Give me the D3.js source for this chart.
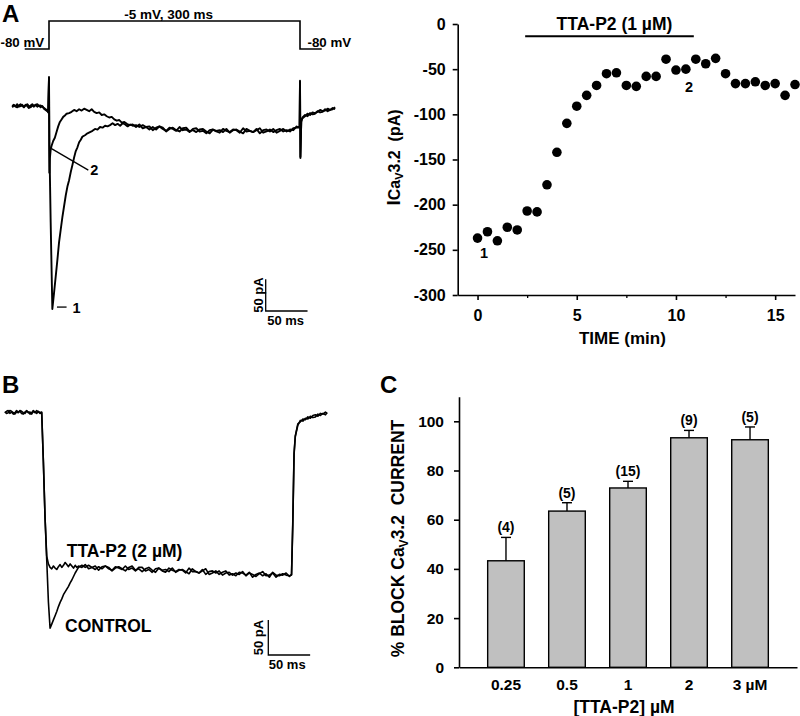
<!DOCTYPE html>
<html><head><meta charset="utf-8">
<script src="https://cdn.jsdelivr.net/npm/d3@7"></script>
<style>
body{margin:0;background:#fff;}
svg{display:block;font-family:"Liberation Sans",Arial,sans-serif;font-weight:bold;}
text{fill:#000;}
</style></head><body>
<svg id="fig" width="800" height="716"></svg>
<script>
// ---------- DATA ----------
// Panel A (right): time course of ICaV3.2
const scatterTime = [0,0.5,1,1.5,2,2.5,3,3.5,4,4.5,5,5.5,6,6.5,7,7.5,8,8.5,9,9.5,10,10.5,11,11.5,12,12.5,13,13.5,14,14.5,15,15.5,16];
const scatterCurrent = [-237,-230,-240,-225,-228,-207,-208,-178,-142,-110,-91,-79,-68,-55,-54,-68,-69,-58,-58,-39,-51,-50,-39,-44,-38,-55,-66,-66,-64,-68,-66,-79,-67];
const scatterYTicks = [0,-50,-100,-150,-200,-250,-300];
const scatterXTicks = [0,5,10,15];
const scatterMinorTicks = [2.5,7.5,12.5];
const drugPeriod = [2.4,10.9];

// Panel C: % block
const concLabels = ["0.25","0.5","1","2","3 \u00b5M"];
const blockMean = [43.3,63.5,72.9,93.3,92.5];
const blockSEM = [9.5,3.4,2.7,3.0,5.2];
const nCells = [4,5,15,9,5];
const blockTicks = [0,20,40,60,80,100];

// Panel A (left): voltage protocol [ms, mV]
const protocolA = [[-29,-80],[0,-80],[0,-5],[300,-5],[300,-80],[326,-80]];
// Panel A traces [ms, pA]
const ctrlA = [[-44,3],[-42,5],[-40,2],[-38,1],[-36,4],[-34,6],[-32,3],[-30,2],[-28,5],[-26,3],[-24,0],[-22,4],[-20,6],[-18,3],[-16,5],[-14,2],[-12,4],[-10,1],[-8,3],[-6,-1],[-4,-3],[-2,-5],[-1,-6],
[0,49],[0.5,-60],[2,-180],[4,-317],[6,-292],[8,-266],[10,-240],[12,-212],[14,-192],[16,-172],[18,-155],[20,-138],[22,-124],[24,-114],[26,-101],[28,-90],[30,-78],[32,-68],[34,-62],[36,-54],[38,-50],[40,-45],
[43,-43],[46,-40],[49,-38],[52,-36],[55,-33],[58,-34],[61,-30],[64,-31],[67,-28],[70,-29],[73,-27],[76,-24],[79,-27],[82,-25],[85,-28],[88,-24],[91,-26],[94,-29],[97,-26],[100,-28],
[104,-27],[108,-30],[112,-27],[116,-30],[120,-34],[124,-30],[128,-34],[132,-29],[136,-31],[140,-37],[144,-33],[148,-31],[152,-35],[156,-37],[160,-32],[164,-31],[168,-37],[172,-35],[176,-38],[180,-34],[184,-33],[188,-37],[192,-40],[196,-34],[200,-36],[204,-35],[208,-38],[212,-33],[216,-39],[220,-35],[224,-34],[228,-37],[232,-40],[236,-33],[240,-36],[244,-38],[248,-35],[252,-32],[256,-39],[260,-37],[264,-34],[268,-38],[272,-35],[276,-33],[280,-37],[284,-35],[288,-37],[292,-32],[296,-31],[298,-30],
[299.5,-30],[300,43],[300.5,-79],[301.5,-22],[303,-15],[306,-11],[309,-13],[312,-8],[315,-10],[318,-9],[321,-5],[324,-7],[327,-6],[330,-2],[333,-5],[336,-3],[339,0],[342,-2]];
const ttaA = [[-44,1],[-42,4],[-40,3],[-38,6],[-36,2],[-34,3],[-32,5],[-30,1],[-28,4],[-26,6],[-24,3],[-22,1],[-20,4],[-18,2],[-16,5],[-14,6],[-12,3],[-10,4],[-8,2],[-6,0],[-4,-2],[-2,-4],[-1,-7],
[0,47],[0.4,-102],[1,-80],[2,-66],[3,-60],[5,-52],[7,-47],[9,-38],[11,-29],[13,-22],[15,-18],[17,-14],[19,-12],[21,-9],
[24,-8],[27,-6],[30,-3],[33,-5],[36,-2],[39,-4],[42,-1],[45,-3],[48,-5],[51,-2],[54,-6],[57,-8],[60,-7],[63,-11],[66,-10],[69,-13],[72,-15],[75,-14],[78,-18],[81,-20],[84,-19],[87,-23],[90,-22],[93,-25],[96,-27],[100,-26],
[104,-30],[108,-26],[112,-32],[116,-30],[120,-29],[124,-35],[128,-31],[132,-29],[136,-33],[140,-36],[144,-31],[148,-33],[152,-36],[156,-30],[160,-35],[164,-34],[168,-38],[172,-33],[176,-32],[180,-37],[184,-36],[188,-40],[192,-35],[196,-34],[200,-37],[204,-39],[208,-33],[212,-36],[216,-38],[220,-34],[224,-35],[228,-39],[232,-32],[236,-37],[240,-36],[244,-38],[248,-33],[252,-40],[256,-35],[260,-34],[264,-37],[268,-33],[272,-39],[276,-36],[280,-33],[284,-37],[288,-34],[292,-35],[296,-29],[298,-31],
[299.5,-31],[300,41],[300.5,-77],[301.5,-20],[303,-16],[306,-13],[309,-9],[312,-11],[315,-7],[318,-8],[321,-6],[324,-3],[327,-5],[330,-4],[333,-1],[336,-3],[339,-2],[342,1]];

// Panel B traces [ms, pA]
const ctrlB = [[-44,0],[-42,2],[-40,3],[-38,-1],[-36,1],[-34,-2],[-32,0],[-30,3],[-28,1],[-26,2],[-24,-1],[-22,-2],[-20,1],[-18,3],[-16,0],[-14,1],[-12,-2],[-10,2],[-8,0],[-6,3],[-4,1],[-2,-1],[0,0],
[2,-70],[4,-150],[6,-210],[8,-270],[10,-308],[12,-302],[14,-296],[16,-290],[18,-284],[20,-277],[22,-271],[24,-266],[26,-260],[28,-256],[30,-252],[32,-248],[34,-243],[36,-239],[38,-234],[40,-229],[42,-225],[44,-221],
[48,-218],[52,-221],[56,-218],[60,-221],[64,-224],[68,-220],[72,-223],[76,-219],[80,-221],[84,-226],[88,-222],[92,-220],[96,-223],[100,-226],[104,-221],[108,-219],[112,-225],[116,-223],[120,-227],[124,-223],[128,-221],[132,-225],[136,-228],[140,-222],[144,-225],[148,-224],[152,-227],[156,-222],[160,-228],[164,-225],[168,-224],[172,-227],[176,-230],[180,-223],[184,-227],[188,-229],[192,-226],[196,-223],[200,-231],[204,-229],[208,-226],[212,-231],[216,-228],[220,-226],[224,-232],[228,-230],[232,-233],[236,-228],[240,-229],[244,-232],[248,-228],[252,-235],[256,-231],[260,-229],[264,-233],[268,-230],[272,-235],[276,-228],[280,-232],[284,-233],[288,-230],[292,-232],[296,-233],[298.5,-232],
[300,-160],[301.5,-60],[303,-34],[306,-18],[309,-11],[312,-12],[315,-8],[318,-9],[321,-5],[324,-7],[327,-6],[330,-2],[333,-4],[336,-1],[339,-3],[341,0]];
const ttaB = [[-44,1],[-42,-1],[-40,0],[-38,3],[-36,2],[-34,0],[-32,-2],[-30,1],[-28,0],[-26,3],[-24,2],[-22,0],[-20,-1],[-18,2],[-16,1],[-14,-2],[-12,0],[-10,3],[-8,1],[-6,-1],[-4,2],[-2,0],[0,1],
[2,-70],[4,-150],[6,-205],[8,-216],[10,-221],[12,-223],[14,-219],[16,-222],[18,-224],[20,-220],[22,-217],[24,-221],[26,-218],[28,-214],[30,-217],[32,-220],[34,-216],[36,-219],[38,-222],[40,-218],[42,-221],[44,-219],
[48,-221],[52,-217],[56,-223],[60,-221],[64,-219],[68,-225],[72,-220],[76,-219],[80,-223],[84,-225],[88,-220],[92,-222],[96,-224],[100,-219],[104,-224],[108,-222],[112,-226],[116,-221],[120,-221],[124,-226],[128,-224],[132,-228],[136,-223],[140,-222],[144,-226],[148,-228],[152,-222],[156,-225],[160,-227],[164,-224],[168,-225],[172,-229],[176,-222],[180,-227],[184,-227],[188,-229],[192,-224],[196,-231],[200,-227],[204,-226],[208,-229],[212,-226],[216,-232],[220,-229],[224,-228],[228,-232],[232,-229],[236,-231],[240,-227],[244,-233],[248,-229],[252,-231],[256,-234],[260,-230],[264,-227],[268,-233],[272,-232],[276,-229],[280,-235],[284,-231],[288,-232],[292,-229],[296,-234],[298.5,-231],
[300,-155],[301.5,-58],[303,-33],[306,-16],[309,-13],[312,-9],[315,-10],[318,-6],[321,-8],[324,-4],[327,-3],[330,-5],[333,-1],[336,-2],[339,1],[341,-1]];

// ---------- DRAWING ----------
const svg = d3.select('#fig');

function styleAxis(g, fs, sw){
  g.attr('font-family', null).attr('font-size', fs);
  g.select('.domain').attr('stroke','#000').attr('stroke-width', sw);
  g.selectAll('.tick line').attr('stroke','#000').attr('stroke-width', sw);
  g.selectAll('.tick text').attr('fill','#000').style('font-weight','bold');
}

// Panel letters
svg.append('text').attr('x',2).attr('y',22).attr('font-size',24).text('A');
svg.append('text').attr('x',2).attr('y',393).attr('font-size',24).text('B');
svg.append('text').attr('x',380).attr('y',393).attr('font-size',24).text('C');

// ===== Panel A left: traces =====
const xA = d3.scaleLinear().domain([0,300]).range([49,300]);
const yA = d3.scaleLinear().domain([0,-100]).range([108,171.4]);
const yV = d3.scaleLinear().domain([-80,-5]).range([49,21]);
const gA = svg.append('g');
gA.append('path').datum(protocolA)
  .attr('d', d3.line().x(d=>xA(d[0])).y(d=>yV(d[1])))
  .attr('fill','none').attr('stroke','#000').attr('stroke-width',1.6);
gA.append('text').attr('x',0.5).attr('y',yV(-80)-2.5).attr('font-size',13.3).text('-80 mV');
gA.append('text').attr('x',xA(309)).attr('y',yV(-80)-2.5).attr('font-size',13.3).text('-80 mV');
gA.append('text').attr('x',xA(143)).attr('y',18.5).attr('text-anchor','middle').attr('font-size',13.5).text('-5 mV, 300 ms');

const lineA = d3.line().x(d=>xA(d[0])).y(d=>yA(d[1]));
[ctrlA, ttaA].forEach(tr=>{
  gA.append('path').datum(tr).attr('d', lineA)
    .attr('fill','none').attr('stroke','#000').attr('stroke-width',1.9).attr('stroke-linejoin','round');
});
// annotations
gA.append('line').attr('x1',xA(3)).attr('y1',yA(-64)).attr('x2',xA(47)).attr('y2',yA(-98)).attr('stroke','#000').attr('stroke-width',1.3);
gA.append('text').attr('x',xA(54)).attr('y',yA(-98)+5).attr('text-anchor','middle').attr('font-size',14.5).text('2');
gA.append('line').attr('x1',xA(9.5)).attr('y1',yA(-314)).attr('x2',xA(21)).attr('y2',yA(-314)).attr('stroke','#000').attr('stroke-width',1.3);
gA.append('text').attr('x',xA(33)).attr('y',yA(-314)+5.5).attr('text-anchor','middle').attr('font-size',14.5).text('1');
// scale bar A
{
  const bx = 265.7, by = 311;
  const h = yA(-50)-yA(0), w = xA(50)-xA(0);
  gA.append('path').attr('d',`M${bx},${by-h}V${by}H${bx+w}`).attr('fill','none').attr('stroke','#000').attr('stroke-width',1.3);
  gA.append('text').attr('transform',`translate(${bx-3},${by-h/2}) rotate(-90)`).attr('text-anchor','middle').attr('font-size',13).text('50 pA');
  gA.append('text').attr('x',bx+w/2-1).attr('y',by+14).attr('text-anchor','middle').attr('font-size',13).text('50 ms');
}

// ===== Panel A right: scatter =====
const xS = d3.scaleLinear().domain([-1,16]).range([457.7,795]);
const yS = d3.scaleLinear().domain([-300,0]).range([295,24]);
const gS = svg.append('g');
gS.append('g').attr('transform','translate(457.7,0)')
  .call(d3.axisLeft(yS).tickValues(scatterYTicks).tickFormat(d=>String(d)).tickSize(5).tickSizeOuter(0).tickPadding(7))
  .call(g=>styleAxis(g,16,1.6));
gS.append('g').attr('transform','translate(0,295)')
  .call(d3.axisBottom(xS).tickValues(scatterXTicks).tickFormat(d=>String(d)).tickSize(5).tickSizeOuter(0).tickPadding(10))
  .call(g=>styleAxis(g,16,1.6));
gS.append('g').attr('transform','translate(0,295)')
  .call(d3.axisBottom(xS).tickValues(scatterMinorTicks).tickFormat('').tickSize(3))
  .call(g=>{g.select('.domain').remove(); g.selectAll('line').attr('stroke','#000').attr('stroke-width',1.3);});
gS.selectAll('circle').data(scatterTime).enter().append('circle')
  .attr('cx',(d)=>xS(d)).attr('cy',(d,i)=>yS(scatterCurrent[i])).attr('r',4.8).attr('fill','#000');
// drug bar
gS.append('line').attr('x1',xS(drugPeriod[0])).attr('x2',xS(drugPeriod[1])).attr('y1',yS(0)+12.3).attr('y2',yS(0)+12.3)
  .attr('stroke','#000').attr('stroke-width',2);
gS.append('text').attr('x',(xS(drugPeriod[0])+xS(drugPeriod[1]))/2+5).attr('y',29.5).attr('text-anchor','middle').attr('font-size',17.5).text('TTA-P2 (1 \u00b5M)');
gS.append('text').attr('x',xS(0)+6.5).attr('y',yS(scatterCurrent[0])+20).attr('text-anchor','middle').attr('font-size',14.5).text('1');
gS.append('text').attr('x',xS(10)+13).attr('y',yS(scatterCurrent[20])+22).attr('text-anchor','middle').attr('font-size',14.5).text('2');
// axis titles
{
  const t = gS.append('text').attr('transform','translate(400,157.5) rotate(-90)').attr('text-anchor','middle').attr('font-size',17);
  t.append('tspan').attr('font-size',19).text('I');
  t.append('tspan').attr('font-size',16).text('Ca');
  t.append('tspan').attr('font-size',11).attr('dy',3).text('V');
  t.append('tspan').attr('font-size',16).attr('dy',-3).text('3.2\u00a0 (pA)');
}
gS.append('text').attr('x',xS(7.3)).attr('y',344).attr('text-anchor','middle').attr('font-size',17).text('TIME (min)');

// ===== Panel B =====
const xB = d3.scaleLinear().domain([0,300]).range([41.7,292.8]);
const yB = d3.scaleLinear().domain([0,-100]).range([412.7,482.7]);
const gB = svg.append('g');
const lineB = d3.line().x(d=>xB(d[0])).y(d=>yB(d[1]));
[ctrlB, ttaB].forEach(tr=>{
  gB.append('path').datum(tr).attr('d', lineB)
    .attr('fill','none').attr('stroke','#000').attr('stroke-width',1.6).attr('stroke-linejoin','round');
});
gB.append('text').attr('x',66.7).attr('y',556.7).attr('font-size',17.5).text('TTA-P2 (2 \u00b5M)');
gB.append('text').attr('x',65).attr('y',631.7).attr('font-size',17.5).text('CONTROL');
{
  const bx = 268.3, by = 655;
  const h = yB(-50)-yB(0), w = xB(50)-xB(0);
  gB.append('path').attr('d',`M${bx},${by-h}V${by}H${bx+w}`).attr('fill','none').attr('stroke','#000').attr('stroke-width',1.3);
  gB.append('text').attr('transform',`translate(${bx-5},${by-h/2}) rotate(-90)`).attr('text-anchor','middle').attr('font-size',13).text('50 pA');
  gB.append('text').attr('x',bx+w/2-2).attr('y',by+14).attr('text-anchor','middle').attr('font-size',13).text('50 ms');
}

// ===== Panel C =====
const xC = d3.scaleBand().domain(concLabels).range([459,797]).paddingInner(0.4).paddingOuter(0.47);
const yC = d3.scaleLinear().domain([0,110]).range([667.3,396.7]);
const gC = svg.append('g');
gC.selectAll('rect').data(concLabels).enter().append('rect')
  .attr('x',d=>xC(d)).attr('width',xC.bandwidth())
  .attr('y',(d,i)=>yC(blockMean[i])).attr('height',(d,i)=>yC(0)-yC(blockMean[i]))
  .attr('fill','#c0c0c0').attr('stroke','#000').attr('stroke-width',1.4);
concLabels.forEach((c,i)=>{
  const cx = xC(c)+xC.bandwidth()/2;
  const top = yC(blockMean[i]+blockSEM[i]);
  gC.append('line').attr('x1',cx).attr('x2',cx).attr('y1',yC(blockMean[i])).attr('y2',top).attr('stroke','#000').attr('stroke-width',1.4);
  gC.append('line').attr('x1',cx-5).attr('x2',cx+5).attr('y1',top).attr('y2',top).attr('stroke','#000').attr('stroke-width',1.4);
  gC.append('text').attr('x',cx).attr('y',top-5).attr('text-anchor','middle').attr('font-size',14).text(`(${nCells[i]})`);
});
gC.append('g').attr('transform','translate(459,0)')
  .call(d3.axisLeft(yC).tickValues(blockTicks).tickFormat(d=>String(d)).tickSize(5).tickSizeOuter(0).tickPadding(10))
  .call(g=>styleAxis(g,15.5,1.6));
gC.append('g').attr('transform','translate(0,667.3)')
  .call(d3.axisBottom(xC).tickSize(0).tickSizeOuter(0).tickPadding(12))
  .call(g=>styleAxis(g,15.5,1.6));
{
  const t = gC.append('text').attr('transform','translate(404,538.5) rotate(-90)').attr('text-anchor','middle').attr('font-size',17.5);
  t.append('tspan').text('% BLOCK Ca');
  t.append('tspan').attr('font-size',12).attr('dy',4).text('V');
  t.append('tspan').attr('dy',-4).text('3.2\u00a0 CURRENT');
}
gC.append('text').attr('x',624).attr('y',713).attr('text-anchor','middle').attr('font-size',17.5).text('[TTA-P2] \u00b5M');
</script>
</body></html>
